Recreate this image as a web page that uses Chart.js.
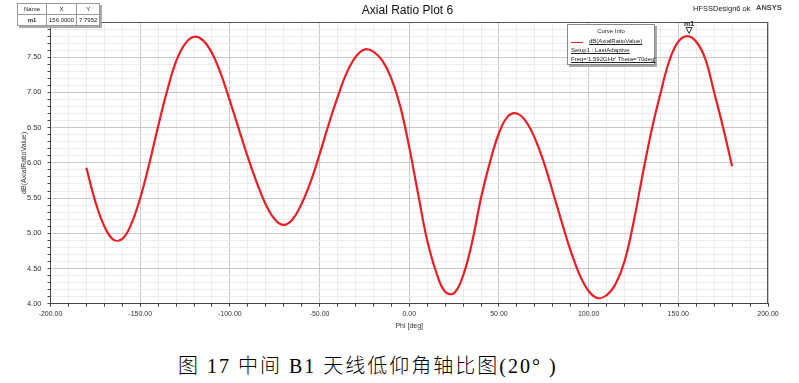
<!DOCTYPE html>
<html>
<head>
<meta charset="utf-8">
<script src="https://cdn.jsdelivr.net/npm/chart.js@4.4.0/dist/chart.umd.min.js"></script>
<style>
body{margin:0;background:#fff;width:799px;height:383px;overflow:hidden;position:relative;font-family:"Liberation Sans",Arial,sans-serif;color:#222;}
#wrap{position:absolute;left:0;top:0;width:799px;height:340px;}
#title{position:absolute;left:0;width:815px;top:3px;text-align:center;font-size:12px;color:#111;}
#design{position:absolute;left:693px;top:4px;font-size:7.5px;}
#ansys{position:absolute;left:756px;top:3px;font-size:7.5px;font-weight:bold;color:#444;}
#marker{position:absolute;left:17px;top:3px;border-collapse:collapse;background:#fff;font-size:6px;box-shadow:2px 2px 0 #aaa;border:1px solid #666;}
#marker td{border:1px solid #999;height:10px;padding:0 2px;text-align:center;}
#legend{position:absolute;left:567px;top:24px;width:86px;height:39px;border:1px solid #888;background:#fff;box-shadow:2px 2px 0 #aaa;font-size:6px;}
#legend div{position:absolute;white-space:nowrap;}
#caption{position:absolute;left:178px;top:350px;font-size:20px;letter-spacing:2px;font-weight:300;font-family:"Liberation Serif","Noto Sans CJK SC",serif;color:#000;white-space:nowrap;}
</style>
</head>
<body>
<div id="wrap"><canvas id="arChart" width="799" height="340"></canvas></div>
<div id="title">Axial Ratio Plot 6</div>
<div id="design">HFSSDesign6 ok</div>
<div id="ansys">ANSYS</div>
<table id="marker">
  <tr><td style="width:24px">Name</td><td style="width:23px">X</td><td style="width:18px">Y</td></tr>
  <tr><td style="font-weight:bold">m1</td><td id="mx"></td><td id="my"></td></tr>
</table>
<div id="legend">
  <div style="left:0;width:86px;top:3px;text-align:center;">Curve Info</div>
  <div style="left:3px;top:17px;width:12px;height:0;border-top:1.5px solid #ee1c25;"></div>
  <div style="left:21px;top:13px;text-decoration:underline;">dB(AxialRatioValue)</div>
  <div style="left:3px;top:22px;text-decoration:underline;">Setup1 : LastAdaptive</div>
  <div style="left:3px;top:31px;text-decoration:underline;">Freq='1.592GHz' Theta='70deg'</div>
</div>
<div id="caption">图 17 中间 B1 天线低仰角轴比图(20° )</div>
<script>
// Phi [deg]
var phi = [-180,-175,-170,-165,-160,-155,-150,-145,-140,-135,-130,-125,-120,-115,-110,-105,-100,-95,-90,-85,-80,-75,-70,-65,-60,-55,-50,-45,-40,-35,-30,-25,-20,-15,-10,-5,0,5,10,15,20,25,30,35,40,45,50,55,60,65,70,75,80,85,90,95,100,105,110,115,120,125,130,135,140,145,150,155,160,165,170,175,180];
// dB(AxialRatioValue)
var axialRatio = [5.93,5.45,5.10,4.91,4.92,5.13,5.50,5.98,6.52,7.02,7.44,7.69,7.79,7.74,7.56,7.26,6.88,6.48,6.08,5.72,5.41,5.20,5.12,5.20,5.42,5.73,6.12,6.54,6.93,7.27,7.50,7.61,7.58,7.45,7.20,6.80,6.22,5.55,4.90,4.45,4.17,4.15,4.40,4.87,5.50,6.01,6.42,6.66,6.70,6.59,6.35,6.01,5.59,5.16,4.75,4.41,4.18,4.08,4.12,4.28,4.60,5.15,5.82,6.45,6.98,7.45,7.72,7.80,7.72,7.48,7.00,6.50,5.95];
var markerX = 156.0000;
var markerY = 7.7952;

document.getElementById('mx').textContent = markerX.toFixed(4);
document.getElementById('my').textContent = markerY.toFixed(4);

var points = phi.map(function(p, i){ return {x: p, y: axialRatio[i]}; });

// frame around plot + marker triangle
var framePlugin = {
  id: 'frame',
  afterDraw: function(chart){
    var ctx = chart.ctx, a = chart.chartArea;
    ctx.save();
    ctx.strokeStyle = '#555';
    ctx.lineWidth = 1;
    ctx.beginPath();
    ctx.moveTo(a.left, a.top + 0.5);
    ctx.lineTo(a.right - 0.5, a.top + 0.5);
    ctx.lineTo(a.right - 0.5, a.bottom);
    ctx.stroke();
    var px = chart.scales.x.getPixelForValue(markerX);
    var py = chart.scales.y.getPixelForValue(markerY);
    ctx.beginPath();
    ctx.moveTo(px - 3, py - 9);
    ctx.lineTo(px + 3, py - 9);
    ctx.lineTo(px, py - 3);
    ctx.closePath();
    ctx.fillStyle = '#fff';
    ctx.fill();
    ctx.strokeStyle = '#333';
    ctx.stroke();
    ctx.fillStyle = '#222';
    ctx.font = 'bold 7px "Liberation Sans", Arial';
    ctx.textAlign = 'center';
    ctx.textBaseline = 'bottom';
    ctx.fillText('m1', px, py - 9);
    ctx.restore();
  }
};

var ctx = document.getElementById('arChart').getContext('2d');
var arChart = new Chart(ctx, {
  type: 'line',
  data: {
    datasets: [{
      label: 'dB(AxialRatioValue)',
      data: points,
      borderColor: '#ee1c25',
      borderWidth: 2.2,
      pointRadius: 0,
      fill: false,
      tension: 0.4
    }]
  },
  options: {
    responsive: false,
    animation: false,
    layout: { padding: { left: 0, top: 22, right: 31, bottom: 0 } },
    plugins: { legend: { display: false }, tooltip: { enabled: false } },
    scales: {
      x: {
        type: 'linear',
        min: -200,
        max: 200,
        afterFit: function(s){ s.height = 36.3; },
        ticks: {
          stepSize: 10,
          autoSkip: false,
          maxRotation: 0,
          padding: 3,
          color: '#333',
          font: { size: 7, family: '"Liberation Sans", Arial' },
          callback: function(v){ return Math.round(v) % 50 === 0 ? v.toFixed(2) : ''; }
        },
        grid: {
          color: function(c){ return Math.round(c.tick.value) % 50 === 0 ? '#c8c8c8' : '#ececec'; },
          tickColor: '#444',
          tickLength: 3
        },
        border: { color: '#444', width: 1 },
        title: { display: true, text: 'Phi [deg]', color: '#333', font: { size: 7, family: '"Liberation Sans", Arial' }, padding: { top: 0, bottom: 10 } }
      },
      y: {
        min: 4,
        max: 8,
        afterFit: function(s){ s.width = 50.5; },
        ticks: {
          stepSize: 0.1,
          autoSkip: false,
          padding: 6,
          color: '#333',
          font: { size: 7.5, family: '"Liberation Sans", Arial' },
          callback: function(v){ var k = Math.round(v * 10); return (k % 5 === 0 && k < 80) ? v.toFixed(2) : ''; }
        },
        grid: {
          color: function(c){ return Math.round(c.tick.value * 10) % 5 === 0 ? '#c8c8c8' : '#ececec'; },
          tickColor: '#444',
          tickLength: 3
        },
        border: { color: '#444', width: 1 },
        title: { display: true, text: 'dB(AxialRatioValue)', color: '#333', font: { size: 7, family: '"Liberation Sans", Arial' }, padding: { top: 19.5, bottom: 0 } }
      }
    }
  },
  plugins: [framePlugin]
});
</script>
</body>
</html>
